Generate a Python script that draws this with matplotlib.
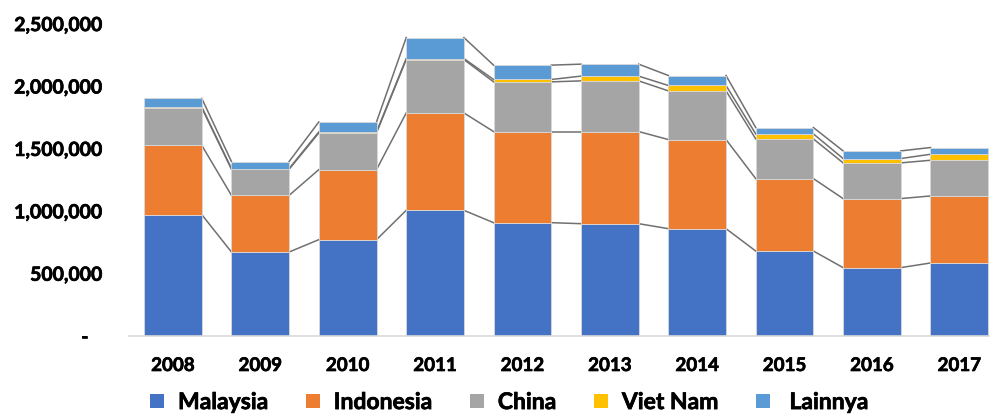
import numpy as np
import matplotlib.pyplot as plt
import matplotlib.patheffects as pe
from matplotlib.patches import Patch
from matplotlib.ticker import FuncFormatter

# data
years = ['2008', '2009', '2010', '2011', '2012', '2013', '2014', '2015', '2016', '2017']
malaysia = [974000, 674000, 773000, 1008000, 909000, 901000, 861000, 682000, 549000, 586000]
indonesia = [555000, 454000, 561000, 780000, 730000, 738000, 714000, 580000, 553000, 537000]
china = [300000, 209000, 294000, 428000, 398000, 406000, 390000, 318000, 286000, 286000]
vietnam = [8000, 6000, 8000, 8000, 19000, 38000, 43000, 40000, 35000, 48000]
lainnya = [68000, 56000, 80000, 168000, 115000, 96000, 80000, 51000, 61000, 54000]

names = ['Malaysia', 'Indonesia', 'China', 'Viet Nam', ' Lainnya']
colors = ['#4472C4', '#ED7D31', '#A5A5A5', '#FFC000', '#5B9BD5']
series = [malaysia, indonesia, china, vietnam, lainnya]

plt.rcParams['font.family'] = ['Lato', 'DejaVu Sans']
plt.rcParams['font.weight'] = 'bold'
thick = [pe.withStroke(linewidth=0.5, foreground='black')]

fig = plt.figure(figsize=(9.94, 4.15), dpi=100)
ax = fig.add_axes([0.13, 0.19, 0.865, 0.752])

x = np.arange(len(years))
w = 0.66
bottom = np.zeros(len(years))
tops = []
for vals, col in zip(series, colors):
    vals = np.asarray(vals, dtype=float)
    ax.bar(x, vals, w, bottom=bottom, color=col, edgecolor='#d9d9d9', linewidth=0.6, zorder=2)
    bottom = bottom + vals
    tops.append(bottom.copy())

# series lines between bars
for lvl in tops:
    for i in range(len(years) - 1):
        ax.plot([x[i] + w / 2, x[i + 1] - w / 2], [lvl[i], lvl[i + 1]],
                color='#707070', linewidth=1.1, zorder=1)

ax.set_xlim(-0.5, 9.34)
ax.set_ylim(0, 2500000)
ax.set_yticks(np.arange(0, 2500001, 500000))
ax.yaxis.set_major_formatter(FuncFormatter(lambda v, p: '-   ' if v == 0 else f'{int(v):,}'))
ax.set_xticks(x)
ax.set_xticklabels(years)
ax.tick_params(axis='y', length=0, pad=19, labelsize=14)
ax.tick_params(axis='x', length=0, pad=15, labelsize=13.5)
for lab in ax.get_xticklabels() + ax.get_yticklabels():
    lab.set_path_effects(thick)
for s in ['top', 'right', 'left']:
    ax.spines[s].set_visible(False)
ax.spines['bottom'].set_color('#d9d9d9')
ax.spines['bottom'].set_linewidth(1.2)

handles = [Patch(facecolor=c, edgecolor='none') for c in colors]
leg = fig.legend(handles, names, loc='center left', bbox_to_anchor=(0.151, 0.03), ncol=5,
                 frameon=False, fontsize=16.5, handlelength=0.62, handleheight=0.62,
                 handletextpad=0.6, columnspacing=1.65, borderpad=0, borderaxespad=0)
for t in leg.get_texts():
    t.set_path_effects(thick)

fig.savefig('out.png', dpi=100)
